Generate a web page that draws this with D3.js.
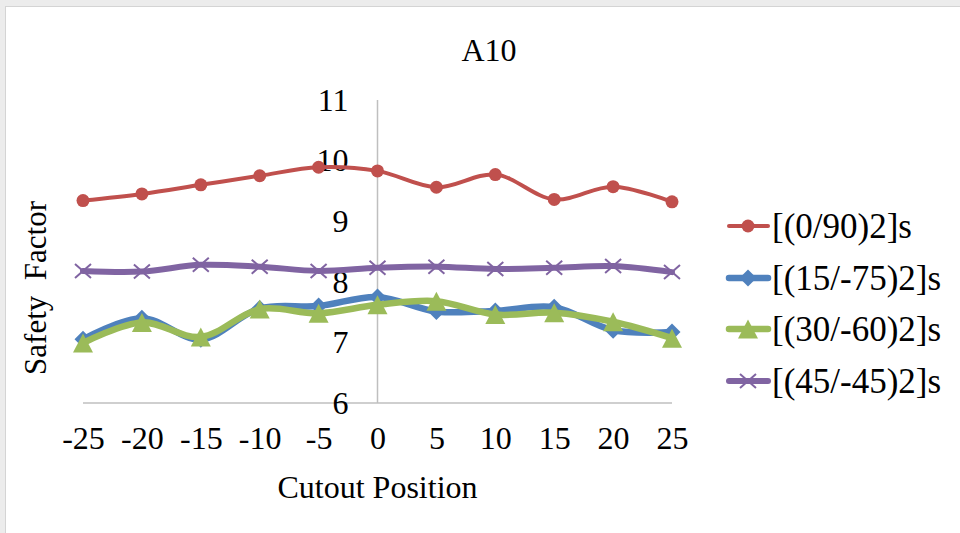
<!DOCTYPE html>
<html>
<head>
<meta charset="utf-8">
<script src="https://cdn.jsdelivr.net/npm/d3@7/dist/d3.min.js"></script>
<style>
  html, body { margin: 0; padding: 0; background: #ffffff; }
  svg { display: block; }
  text { font-family: "Liberation Serif", "Times New Roman", serif; fill: #000; }
</style>
</head>
<body>
<svg id="chart" width="960" height="533"></svg>
<script>
// Cutout positions along the plate
const positions = [-25, -20, -15, -10, -5, 0, 5, 10, 15, 20, 25];
const yTicks = [6, 7, 8, 9, 10, 11];

// Safety factor for each laminate lay-up
const sf0_90   = [9.34, 9.45, 9.60, 9.75, 9.89, 9.83, 9.56, 9.77, 9.36, 9.57, 9.32];
const sf15_75  = [7.05, 7.40, 7.05, 7.56, 7.60, 7.75, 7.51, 7.52, 7.58, 7.20, 7.17];
const sf30_60  = [6.99, 7.33, 7.09, 7.55, 7.48, 7.62, 7.68, 7.46, 7.49, 7.34, 7.07];
const sf45_45  = [8.18, 8.17, 8.28, 8.25, 8.18, 8.23, 8.25, 8.21, 8.23, 8.26, 8.16];

const seriesNames = ["[(0/90)2]s", "[(15/-75)2]s", "[(30/-60)2]s", "[(45/-45)2]s"];

const series = [
  { name: seriesNames[0], values: sf0_90,  color: "#c0504d", width: 4, marker: "circle" },
  { name: seriesNames[1], values: sf15_75, color: "#4f81bd", width: 6.5, marker: "diamond" },
  { name: seriesNames[2], values: sf30_60, color: "#9bbb59", width: 6.5, marker: "triangle" },
  { name: seriesNames[3], values: sf45_45, color: "#8064a2", width: 6, marker: "x" }
];

const svg = d3.select("#chart");

// Chart frame
svg.append("rect").attr("x", 0).attr("y", 0).attr("width", 960).attr("height", 533).attr("fill", "#ececec");
svg.append("rect").attr("x", 5.5).attr("y", 6.5).attr("width", 960).attr("height", 533)
  .attr("fill", "#ffffff").attr("stroke", "#d4d4d4").attr("stroke-width", 1);

const x = d3.scaleLinear().domain([-25, 25]).range([83, 672]);
const y = d3.scaleLinear().domain([6, 11]).range([403, 100]);

// Axis lines: horizontal at the bottom, vertical crossing at position 0
svg.append("line")
  .attr("x1", x(-25)).attr("x2", x(25)).attr("y1", y(6)).attr("y2", y(6))
  .attr("stroke", "#bfbfbf").attr("stroke-width", 1.5);
svg.append("line")
  .attr("x1", x(0)).attr("x2", x(0)).attr("y1", y(11)).attr("y2", y(6))
  .attr("stroke", "#bfbfbf").attr("stroke-width", 1.5);

// Tick labels (plain hyphen for negatives)
const plain = d => String(d);
const yAxis = d3.axisLeft(y).tickValues(yTicks).tickSize(0).tickPadding(0).tickFormat(plain);
const gy = svg.append("g").attr("transform", `translate(${x(0) - 29},0)`).call(yAxis);
gy.select(".domain").remove();
gy.attr("font-family", null).attr("font-size", null);
gy.selectAll("text").attr("font-size", 32).attr("fill", "#000");

const xAxis = d3.axisBottom(x).tickValues(positions).tickSize(0).tickPadding(0).tickFormat(plain);
const gx = svg.append("g").attr("transform", `translate(0,${y(6) + 23})`).call(xAxis);
gx.select(".domain").remove();
gx.attr("font-family", null).attr("font-size", null);
gx.selectAll("text").attr("font-size", 32).attr("fill", "#000");

// Titles
svg.append("text").attr("x", 489).attr("y", 61).attr("text-anchor", "middle")
  .attr("font-size", 32).text("A10");
svg.append("text").attr("x", x(0)).attr("y", 498).attr("text-anchor", "middle")
  .attr("font-size", 32).text("Cutout Position");
svg.append("text").attr("transform", "translate(46,288) rotate(-90)").attr("text-anchor", "middle")
  .attr("font-size", 31).attr("xml:space", "preserve").text("Safety  Factor");

// Marker drawing
function drawMarker(g, type, color) {
  if (type === "circle") {
    g.append("circle").attr("r", 6.5).attr("fill", color);
  } else if (type === "diamond") {
    g.append("path").attr("d", "M0,-8.5L8.5,0L0,8.5L-8.5,0Z").attr("fill", color);
  } else if (type === "triangle") {
    g.append("path").attr("d", "M0,-9.5L10,9.5L-10,9.5Z").attr("fill", color);
  } else if (type === "x") {
    g.append("path").attr("d", "M-8,-7L8,7M-8,7L8,-7").attr("stroke", color)
      .attr("stroke-width", 2).attr("fill", "none");
  }
}

const line = d3.line()
  .x((d, i) => x(positions[i]))
  .y(d => y(d))
  .curve(d3.curveCatmullRom.alpha(0.5));

series.forEach(s => {
  const g = svg.append("g");
  g.append("path").attr("d", line(s.values)).attr("fill", "none")
    .attr("stroke", s.color).attr("stroke-width", s.width)
    .attr("stroke-linejoin", "round").attr("stroke-linecap", "round");
  s.values.forEach((v, i) => {
    const m = g.append("g").attr("transform", `translate(${x(positions[i])},${y(v)})`);
    drawMarker(m, s.marker, s.color);
  });
});

// Legend
const legendY = [226, 278, 329, 381];
series.forEach((s, i) => {
  const g = svg.append("g").attr("transform", `translate(0,${legendY[i]})`);
  g.append("line").attr("x1", 729).attr("x2", 768).attr("y1", 0).attr("y2", 0)
    .attr("stroke", s.color).attr("stroke-width", s.width).attr("stroke-linecap", "round");
  const m = g.append("g").attr("transform", "translate(748,0)");
  drawMarker(m, s.marker, s.color);
  g.append("text").attr("x", 772).attr("y", 12).attr("font-size", 35).text(s.name);
});
</script>
</body>
</html>
